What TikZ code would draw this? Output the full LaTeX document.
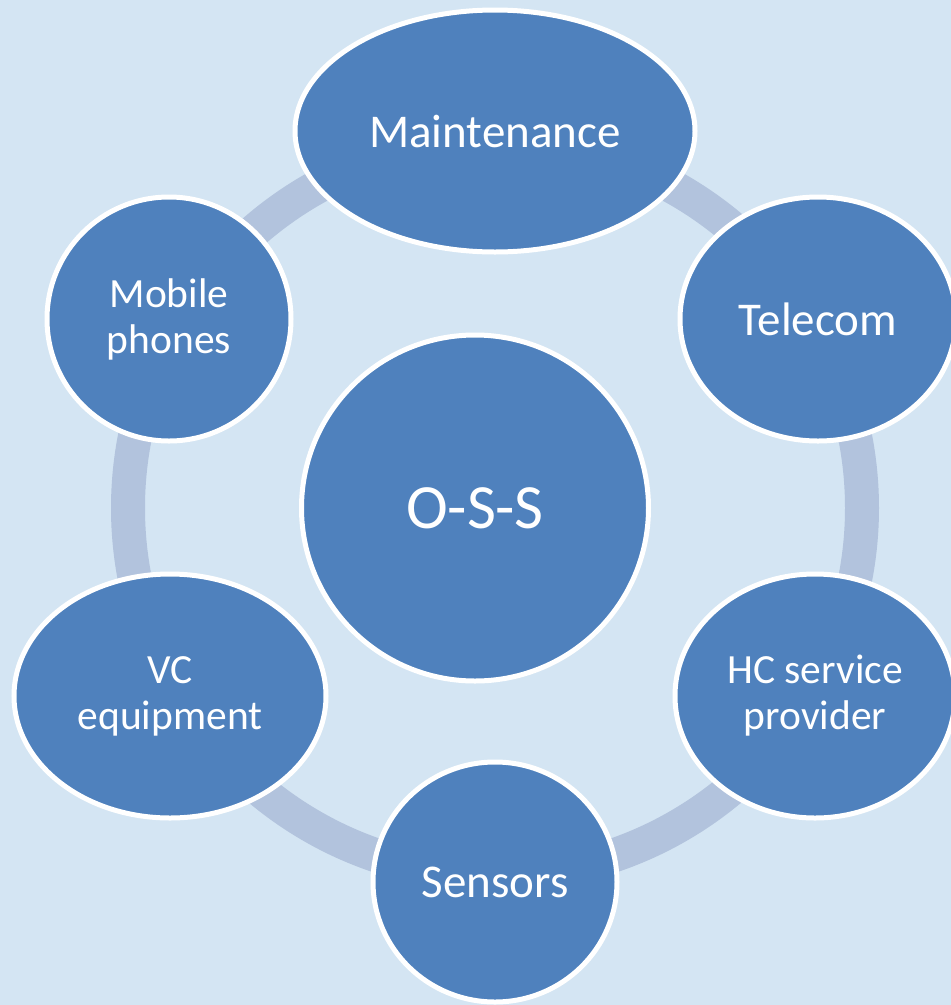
\documentclass[tikz,border=0pt]{standalone}
\usepackage{fontspec}
\setmainfont{Carlito}
\usetikzlibrary{shapes.geometric}
\definecolor{bgblue}{HTML}{D4E5F3}
\definecolor{ringblue}{HTML}{B2C3DD}
\definecolor{nodeblue}{HTML}{4F81BD}
\tikzset{
  bubble/.style={ellipse, draw=white, line width=5pt, fill=nodeblue,
    text=white, inner sep=0pt, align=center},
  bigtxt/.style={font=\fontsize{47}{52}\selectfont},
  smalltxt/.style={font=\fontsize{41.5}{46}\selectfont},
}
\begin{document}
\begin{tikzpicture}[x=1pt,y=-1pt]
  \fill[bgblue] (0,0) rectangle (951,1005);
  \useasboundingbox (0,0) rectangle (951,1005);
  \coordinate (ringc) at (495,508);
  \draw[ringblue, line width=34pt] (ringc) circle[radius=367];
  \node[bubble, bigtxt, minimum width=400pt, minimum height=242pt] (maint) at (495,131) {Maintenance};
  \node[bubble, bigtxt, minimum width=276pt, minimum height=244pt] (tele) at (818,319) {Telecom};
  \node[bubble, smalltxt, minimum width=280pt, minimum height=244pt] (hc) at (815,696) {HC service\\provider};
  \node[bubble, bigtxt, minimum width=244pt, minimum height=240pt] (sens) at (495,882) {Sensors};
  \node[bubble, smalltxt, minimum width=312pt, minimum height=244pt] (vc) at (170,696) {VC\\equipment};
  \node[bubble, smalltxt, minimum width=244pt, minimum height=244pt] (mob) at (169,319) {Mobile\\phones};
  \node[bubble, font=\fontsize{63}{70}\selectfont, minimum width=347pt, minimum height=346pt] (oss) at (475,508) {O-S-S};
\end{tikzpicture}
\end{document}
